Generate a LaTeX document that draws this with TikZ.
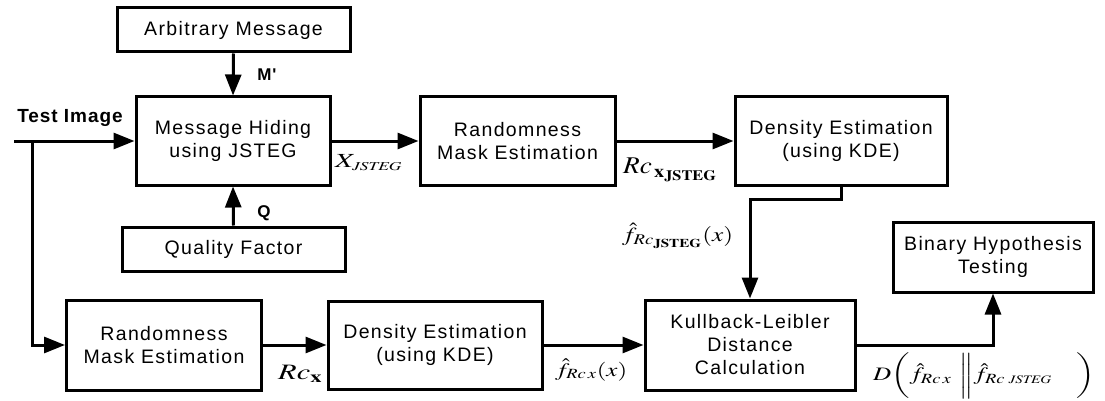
\documentclass[tikz,border=0pt]{standalone}
\usepackage{mathptmx}
\usepackage{graphicx}
\usepackage{fontspec}
\newfontfamily\boxfont[LetterSpace=7]{Liberation Sans}
\newfontfamily\lblfont[LetterSpace=5]{Liberation Sans}
\usetikzlibrary{arrows.meta}
\newcommand{\wstretch}[2]{\resizebox{#1}{\height}{#2}}
\begin{document}
\begin{tikzpicture}[x=1pt,y=-1pt,
  blk/.style={draw, line width=3pt, align=center, inner sep=0pt,
    font=\fontsize{19.5}{23}\boxfont},
  arr/.style={line width=3pt, -{Triangle[length=21pt,width=16pt]}},
  bl/.style={font=\fontsize{17}{20}\lblfont\bfseries, inner sep=0pt},
  ml/.style={inner sep=0pt, anchor=west}]
\useasboundingbox (0,0) rectangle (1105,401);
% boxes
\node[blk, minimum width=233pt, minimum height=44pt] (arb) at (233.5,30) {Arbitrary Message};
\node[blk, minimum width=194pt, minimum height=88pt] (mh) at (233,141) {Message Hiding\\using JSTEG};
\node[blk, minimum width=223pt, minimum height=44pt] (qf) at (233.5,249) {Quality Factor};
\node[blk, minimum width=195pt, minimum height=88pt] (rm1) at (517.5,141) {Randomness\\Mask Estimation};
\node[blk, minimum width=212pt, minimum height=88pt] (de1) at (841,141) {Density Estimation\\(using KDE)};
\node[blk, minimum width=200pt, minimum height=70pt] (bh) at (993,257) {Binary Hypothesis\\Testing};
\node[blk, minimum width=210pt, minimum height=90pt] (kl) at (750,345) {Kullback-Leibler\\Distance\\Calculation};
\node[blk, minimum width=195pt, minimum height=90pt] (rm2) at (164,345) {Randomness\\Mask Estimation};
\node[blk, minimum width=214pt, minimum height=88pt] (de2) at (435,345) {Density Estimation\\(using KDE)};
% free ends
\coordinate (tin) at (14,141);
\coordinate (br) at (32,141);
% connectors
\draw[arr] (tin) -- (mh.west);
\draw[arr] (br) |- (rm2.west);
\draw[arr] (arb.south) -- (mh.north);
\draw[arr] (qf.north) -- (mh.south);
\draw[arr] (mh.east) -- (rm1.west);
\draw[arr] (rm1.east) -- (de1.west);
\draw[arr] (de1.south) -- ++(0,13) -| (kl.north);
\draw[arr] (rm2.east) -- (de2.west);
\draw[arr] (de2.east) -- (kl.west);
\draw[arr] (kl.east) -| (bh.south);
% labels
\node[bl, font=\fontsize{19}{22}\lblfont\bfseries] (ti) at (70,118) {Test Image};
\node[bl] (mp) at (267,75) {M'};
\node[bl] (q) at (264,213) {Q};
\node[ml, font=\fontsize{20}{24}\selectfont] (xj) at (335,163) {\wstretch{67pt}{$X_{\mathit{\scriptscriptstyle JSTEG}}$}};
\node[ml, font=\fontsize{24}{28}\selectfont] (rcxj) at (623,170) {\wstretch{94pt}{$Rc_{\,\mathbf{x}_{\mathbf{JSTEG}}}$}};
\node[ml, font=\fontsize{20}{24}\selectfont] (fj) at (622,236) {\wstretch{111pt}{$\hat f_{Rc_{\mathbf{JSTEG}}}(x)$}};
\node[ml, font=\fontsize{22}{26}\selectfont] (rcx) at (278,374) {\wstretch{44pt}{$Rc_{\mathbf{x}}$}};
\node[ml, font=\fontsize{19}{23}\selectfont] (fx) at (555,370) {\wstretch{72pt}{$\hat f_{Rc\,x}(x)$}};
\node[ml, font=\fontsize{19}{23}\selectfont] (dd) at (873,376) {\wstretch{222pt}{$D\bigg(\hat f_{Rc\,x}\;\,\bigg\|\hat f_{Rc\;\mathit{\scriptscriptstyle JSTEG}}\quad\bigg)$}};
\end{tikzpicture}
\end{document}
